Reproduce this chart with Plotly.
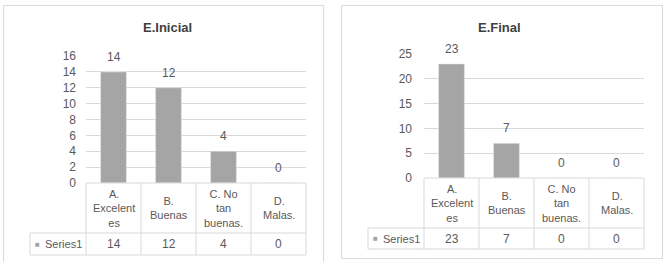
import plotly.graph_objects as go

# ---------------- data ----------------
categories = ["A. Excelentes", "B. Buenas", "C. No tan buenas.", "D. Malas."]
category_labels = ["A.<br>Excelent<br>es", "B.<br>Buenas", "C. No<br>tan<br>buenas.", "D.<br>Malas."]
series_name = "Series1"
initial_values = [14, 12, 4, 0]
final_values = [23, 7, 0, 0]
chart_titles = ["E.Inicial", "E.Final"]
y_max = [16, 25]
y_step = [2, 5]

# ---------------- layout helpers ----------------
W, H = 667, 262
FONT = "Liberation Sans"
TXT = "#595959"
GRID = "#D9D9D9"
BAR = "#A5A5A5"


def fx(p):
    return p / W


def fy(p):
    return 1 - p / H


panels = [
    dict(values=initial_values, title=chart_titles[0], ymax=y_max[0], dtick=y_step[0],
         xa="x", ya="y", plot_x=(86, 306), plot_y=(56, 183), rows=(183, 233, 255),
         title_x=167, box=(3.5, 5.5, 323.5, 280), standoff=9),
    dict(values=final_values, title=chart_titles[1], ymax=y_max[1], dtick=y_step[1],
         xa="x2", ya="y2", plot_x=(424, 644), plot_y=(54, 178), rows=(178, 228, 249),
         title_x=500, box=(341.5, 5.5, 662.5, 258.5), standoff=11),
]

fig = go.Figure()
shapes = []
annotations = []
layout_axes = {}

for i, p in enumerate(panels):
    xa, ya = p["xa"], p["ya"]
    fig.add_trace(go.Bar(x=categories, y=p["values"], name=series_name,
                         marker_color=BAR, xaxis=xa, yaxis=ya,
                         showlegend=False, hoverinfo="x+y"))
    xkey = "xaxis" if i == 0 else "xaxis2"
    ykey = "yaxis" if i == 0 else "yaxis2"
    layout_axes[xkey] = dict(domain=[fx(p["plot_x"][0]), fx(p["plot_x"][1])],
                             anchor=ya, type="category", range=[-0.5, len(categories) - 0.5],
                             showticklabels=False, showgrid=False, zeroline=False,
                             showline=False, ticks="", fixedrange=True, automargin=False)
    layout_axes[ykey] = dict(domain=[fy(p["plot_y"][1]), fy(p["plot_y"][0])],
                             anchor=xa, range=[0, p["ymax"]], dtick=p["dtick"], tick0=0,
                             showgrid=True, gridcolor=GRID, gridwidth=1, zeroline=False,
                             showline=False, ticks="", ticklabelstandoff=p["standoff"],
                             tickfont=dict(family=FONT, size=12, color=TXT), fixedrange=True,
                             automargin=False)

    # chart border
    bx0, by0, bx1, by1 = p["box"]
    shapes.append(dict(type="rect", xref="paper", yref="paper",
                       x0=fx(bx0), x1=fx(bx1), y0=fy(by1), y1=fy(by0),
                       line=dict(color=GRID, width=1), fillcolor="rgba(0,0,0,0)", layer="below"))

    # title
    annotations.append(dict(text="<b>%s</b>" % p["title"], xref="paper", yref="paper",
                            x=fx(p["title_x"]), y=fy(27), xanchor="center", yanchor="middle",
                            showarrow=False, font=dict(family=FONT, size=13, color="#404040")))

    # data labels
    for c, v in zip(categories, p["values"]):
        annotations.append(dict(text=str(v), x=c, y=v, xref=xa, yref=ya, showarrow=False,
                                yanchor="middle", yshift=15,
                                font=dict(family=FONT, size=12, color=TXT)))

    # data table
    r0, r1, r2 = p["rows"]
    n = len(categories)
    dom = xa + " domain"
    w = p["plot_x"][1] - p["plot_x"][0]
    left_cell = -56 / w
    line = dict(color=GRID, width=1)
    shapes.append(dict(type="line", xref=dom, yref="paper", x0=0, x1=1, y0=fy(r0), y1=fy(r0), line=line))
    shapes.append(dict(type="line", xref=dom, yref="paper", x0=left_cell, x1=1, y0=fy(r1), y1=fy(r1), line=line))
    shapes.append(dict(type="line", xref=dom, yref="paper", x0=left_cell, x1=1, y0=fy(r2), y1=fy(r2), line=line))
    for k in range(n + 1):
        shapes.append(dict(type="line", xref=dom, yref="paper", x0=k / n, x1=k / n,
                           y0=fy(r2), y1=fy(r0), line=line))
    shapes.append(dict(type="line", xref=dom, yref="paper", x0=left_cell, x1=left_cell,
                       y0=fy(r2), y1=fy(r1), line=line))

    for c, lab in zip(categories, category_labels):
        annotations.append(dict(text=lab, x=c, xref=xa, yref="paper", y=fy((r0 + r1) / 2),
                                showarrow=False, xanchor="center", yanchor="middle", align="center",
                                font=dict(family=FONT, size=11, color=TXT)))
    for c, v in zip(categories, p["values"]):
        annotations.append(dict(text=str(v), x=c, xref=xa, yref="paper", y=fy((r1 + r2) / 2),
                                showarrow=False, xanchor="center", yanchor="middle",
                                font=dict(family=FONT, size=12, color=TXT)))
    annotations.append(dict(text="■", xref=dom, yref="paper", x=-49 / w, y=fy((r1 + r2) / 2),
                            showarrow=False, xanchor="center", yanchor="middle",
                            font=dict(family=FONT, size=8, color=BAR)))
    annotations.append(dict(text=series_name, xref=dom, yref="paper", x=-43 / w, y=fy((r1 + r2) / 2),
                            showarrow=False, xanchor="left", yanchor="middle",
                            font=dict(family=FONT, size=11, color=TXT)))

fig.update_layout(
    width=W, height=H, autosize=False,
    margin=dict(l=0, r=0, t=0, b=0, pad=0, autoexpand=False),
    paper_bgcolor="white", plot_bgcolor="white",
    bargap=0.53,
    shapes=shapes, annotations=annotations,
    font=dict(family=FONT, color=TXT),
    **layout_axes,
)

fig.write_html("out.html", config={"responsive": False, "displayModeBar": False},
               post_script="document.body.style.margin='0';document.body.style.overflow='hidden';")
